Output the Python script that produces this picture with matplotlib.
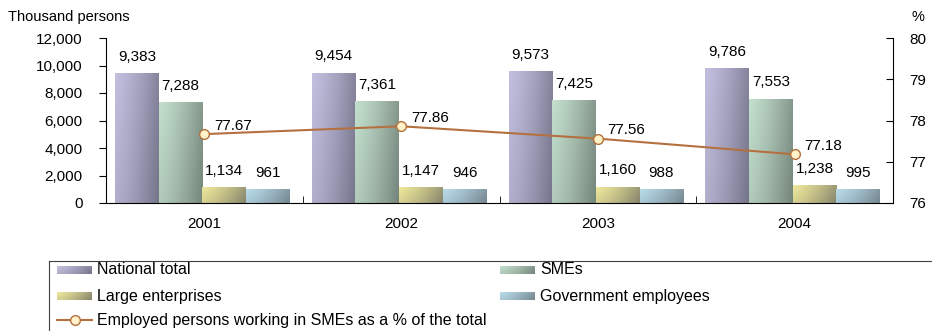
import numpy as np
import matplotlib.pyplot as plt
from matplotlib.colors import to_rgb
from matplotlib.lines import Line2D

plt.rcParams['font.family'] = ['Liberation Sans', 'DejaVu Sans']
plt.rcParams['font.size'] = 11

# data
years = ['2001', '2002', '2003', '2004']
national = [9383, 9454, 9573, 9786]
smes = [7288, 7361, 7425, 7553]
large = [1134, 1147, 1160, 1238]
gov = [961, 946, 988, 995]
sme_pct = [77.67, 77.86, 77.56, 77.18]

series = [
    ('National total', national, ('#cbc7e8', '#74748a')),
    ('SMEs', smes, ('#cbe8d6', '#75857b')),
    ('Large enterprises', large, ('#faf2a0', '#85846c')),
    ('Government employees', gov, ('#bfe4f4', '#75868f')),
]
line_color = '#b4703e'
marker_face = '#fff2c8'


def gradient(c_light, c_dark, n=64):
    # light on the upper left, darker to the right and towards the bottom
    a = np.array(to_rgb(c_light))
    b = np.array(to_rgb(c_dark))
    xx, yy = np.meshgrid(np.linspace(0, 1, n), np.linspace(0, 1, n))
    t = np.clip(0.1 + 0.7 * xx ** 1.3 + 0.2 * yy, 0, 1)
    return a * (1 - t[..., None]) + b * t[..., None]


def grad_box(ax, x0, x1, y0, y1, colors, z=2):
    # first row of the image goes to the top (origin='upper')
    img = gradient(*colors)
    ax.imshow(img, extent=(x0, x1, y0, y1), origin='upper', aspect='auto',
              interpolation='bilinear', zorder=z)


W, H = 932, 331
fig = plt.figure(figsize=(W / 100, H / 100), dpi=100)
ax = fig.add_axes([106 / W, 1 - 203 / H, (893 - 106) / W, (203 - 38) / H])

bw = 0.222
x = np.arange(len(years))
for i, (name, vals, cols) in enumerate(series):
    for xi, v in zip(x, vals):
        left = xi + (i - 2) * bw - 0.01
        grad_box(ax, left, left + bw, 0, v, cols)
        ax.annotate(f'{v:,}', (left + bw / 2, v), xytext=(0, 7),
                    textcoords='offset points', ha='center', va='bottom',
                    fontsize=11, zorder=5)

ax.set_xlim(-0.5, len(years) - 0.5)
ax.set_ylim(0, 12000)
ax.set_yticks(range(0, 12001, 2000))
ax.set_yticklabels([f'{v:,}' for v in range(0, 12001, 2000)])
ax.set_xticks(x)
ax.set_xticklabels(years)
ax.set_xticks([0.5, 1.5, 2.5], minor=True)
ax.tick_params(axis='x', which='major', length=0, pad=10)
ax.tick_params(axis='x', which='minor', direction='in', length=5)
ax.tick_params(axis='y', direction='out', length=5, pad=12)
for s in ['top', 'right']:
    ax.spines[s].set_visible(False)

ax2 = ax.twinx()
ax2.plot(x, sme_pct, color=line_color, lw=1.5, marker='o', ms=7,
         mfc=marker_face, mec=line_color, mew=1, zorder=4)
for xi, p in zip(x, sme_pct):
    ax2.annotate(f'{p:.2f}', (xi, p), xytext=(7, 6),
                 textcoords='offset points', ha='left', va='center',
                 fontsize=11)
ax2.set_ylim(76, 80)
ax2.set_yticks([76, 77, 78, 79, 80])
ax2.tick_params(axis='y', direction='in', length=5, pad=12)
for s in ['top', 'left', 'bottom']:
    ax2.spines[s].set_visible(False)

fig.text(8 / W, 1 - 17 / H, 'Thousand persons', ha='left', va='center',
         fontsize=10.5)
fig.text(918 / W, 1 - 17 / H, '%', ha='center', va='center', fontsize=10.5)

# legend box, drawn by hand in pixel units
lg = fig.add_axes([49 / W, 0, (W - 49) / W, (H - 261) / H])
lg.set_xticks([])
lg.set_yticks([])
for s in ['right', 'bottom']:
    lg.spines[s].set_visible(False)
lg.spines['left'].set_color('#404040')
lg.spines['top'].set_color('#404040')
lg.patch.set_alpha(0)

rows = [9, 35, 59]
cols_x = [8, 451]
slots = [(0, 0), (1, 0), (0, 1), (1, 1)]
for (name, vals, cols), (c, r) in zip(series, slots):
    x0 = cols_x[c]
    yc = rows[r]
    lg.imshow(gradient(*cols), extent=(x0, x0 + 35, yc + 4, yc - 4),
              origin='upper', aspect='auto', interpolation='bilinear')
    lg.text(x0 + 40, yc, name, ha='left', va='center', fontsize=11.5)

lg.add_line(Line2D([8, 43], [rows[2], rows[2]], color=line_color, lw=1.5))
lg.plot([25.5], [rows[2]], marker='o', ms=7, mfc=marker_face,
        mec=line_color, mew=1)
lg.text(48, rows[2], 'Employed persons working in SMEs as a % of the total',
        ha='left', va='center', fontsize=11.5)
lg.set_xlim(0, W - 49)
lg.set_ylim(H - 261, 0)

fig.savefig('out.png', dpi=100)
